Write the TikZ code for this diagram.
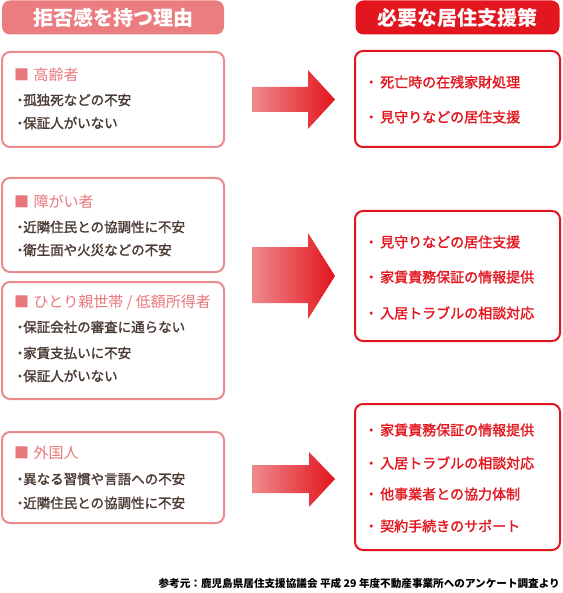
\documentclass[tikz,border=0pt]{standalone}
\usepackage{fontspec}
\setmainfont{Noto Sans CJK JP}
\newfontfamily\medfont{Noto Sans CJK JP}[FakeBold=1.6]
\definecolor{hdrpink}{HTML}{EB7D80}
\definecolor{boxpink}{HTML}{EC8B8E}
\definecolor{catpink}{HTML}{E8777B}
\definecolor{bodydark}{HTML}{4B3B34}
\definecolor{redmain}{HTML}{E3161F}
\definecolor{arrowL}{HTML}{EE8A8C}
\definecolor{arrowR}{HTML}{E2141C}
\tikzset{
  hdr/.style={rounded corners=8pt, inner sep=0pt, text=white, font=\fontsize{20}{20}\selectfont\bfseries},
  lbox/.style={draw=boxpink, line width=2pt, rounded corners=8pt, fill=white, inner sep=0pt, minimum width=222pt},
  rbox/.style={draw=redmain, line width=2pt, rounded corners=8pt, fill=white, inner sep=0pt, minimum width=205pt},
  cat/.style={anchor=west, inner sep=0pt, text=catpink, font=\fontsize{15}{15}\selectfont},
  ltxt/.style={anchor=west, inner sep=0pt, text=bodydark, font=\medfont\fontsize{13.5}{13.5}\selectfont},
  rtxt/.style={anchor=west, inner sep=0pt, text=redmain, font=\medfont\fontsize{14}{14}\selectfont},
  barrow/.style={left color=arrowL, right color=arrowR},
}
\newcommand{\lb}{・\kern-3.5pt}
\newcommand{\rb}{・\kern2pt}
\begin{document}
\begin{tikzpicture}[x=1pt,y=-1pt]
\useasboundingbox (0,0) rectangle (562,593);
% headers
\node[hdr, fill=hdrpink, minimum width=222pt, minimum height=34pt] (hl) at (113,17.5) {拒否感を持つ理由};
\node[hdr, fill=redmain, minimum width=204pt, minimum height=34pt] (hr) at (457.5,17.5) {必要な居住支援策};
% left boxes
\node[lbox, minimum height=95pt] (l1) at (113,99.5) {};
\node[lbox, minimum height=94pt] (l2) at (113,225) {};
\node[lbox, minimum height=117pt] (l3) at (113,340.5) {};
\node[lbox, minimum height=91pt] (l4) at (113,477.5) {};
% right boxes
\node[rbox, minimum height=96pt] (r1) at (457.5,99) {};
\node[rbox, minimum height=130pt] (r2) at (457.5,276) {};
\node[rbox, minimum height=146pt] (r3) at (457.5,477) {};
% left texts
\node[cat] (c1) at (14,75) {■\kern4.5pt 高齢者};
\node[ltxt] (t11) at (13,100) {\lb 孤独死などの不安};
\node[ltxt] (t12) at (13,123) {\lb 保証人がいない};
\node[cat] (c2) at (14,202) {■\kern4.5pt 障がい者};
\node[ltxt] (t21) at (13,227) {\lb 近隣住民との協調性に不安};
\node[ltxt] (t22) at (13,250) {\lb 衛生面や火災などの不安};
\node[cat] (c3) at (14,303) {■\kern4.5pt ひとり親世帯 / 低額所得者};
\node[ltxt] (t31) at (13,327) {\lb 保証会社の審査に通らない};
\node[ltxt] (t32) at (13,353) {\lb 家賃支払いに不安};
\node[ltxt] (t33) at (13,376) {\lb 保証人がいない};
\node[cat] (c4) at (14,453) {■\kern4.5pt 外国人};
\node[ltxt] (t41) at (13,479) {\lb 異なる習慣や言語への不安};
\node[ltxt] (t42) at (13,503) {\lb 近隣住民との協調性に不安};
% right texts
\node[rtxt] (s11) at (364,82) {\rb 死亡時の在残家財処理};
\node[rtxt] (s12) at (364,117) {\rb 見守りなどの居住支援};
\node[rtxt] (s21) at (364,242) {\rb 見守りなどの居住支援};
\node[rtxt] (s22) at (364,277) {\rb 家賃責務保証の情報提供};
\node[rtxt] (s23) at (364,313) {\rb 入居トラブルの相談対応};
\node[rtxt] (s31) at (364,430) {\rb 家賃責務保証の情報提供};
\node[rtxt] (s32) at (364,463) {\rb 入居トラブルの相談対応};
\node[rtxt] (s33) at (364,494) {\rb 他事業者との協力体制};
\node[rtxt] (s34) at (364,526) {\rb 契約手続きのサポート};
% arrows
\shade[barrow] (252,87) -- (308,87) -- (308,70) -- (335,99.5) -- (308,129) -- (308,112) -- (252,112) -- cycle;
\shade[barrow] (252,247) -- (308,247) -- (308,233) -- (335,276) -- (308,319) -- (308,303) -- (252,303) -- cycle;
\shade[barrow] (252,465) -- (309,465) -- (309,452) -- (335,479) -- (309,507) -- (309,493) -- (252,493) -- cycle;
% footnote
\node[anchor=east, inner sep=0pt, font=\fontsize{10.6}{10.6}\selectfont\bfseries] (fn) at (560,583) {参考元：鹿児島県居住支援協議会 平成 29 年度不動産事業所へのアンケート調査より};
\end{tikzpicture}
\end{document}
